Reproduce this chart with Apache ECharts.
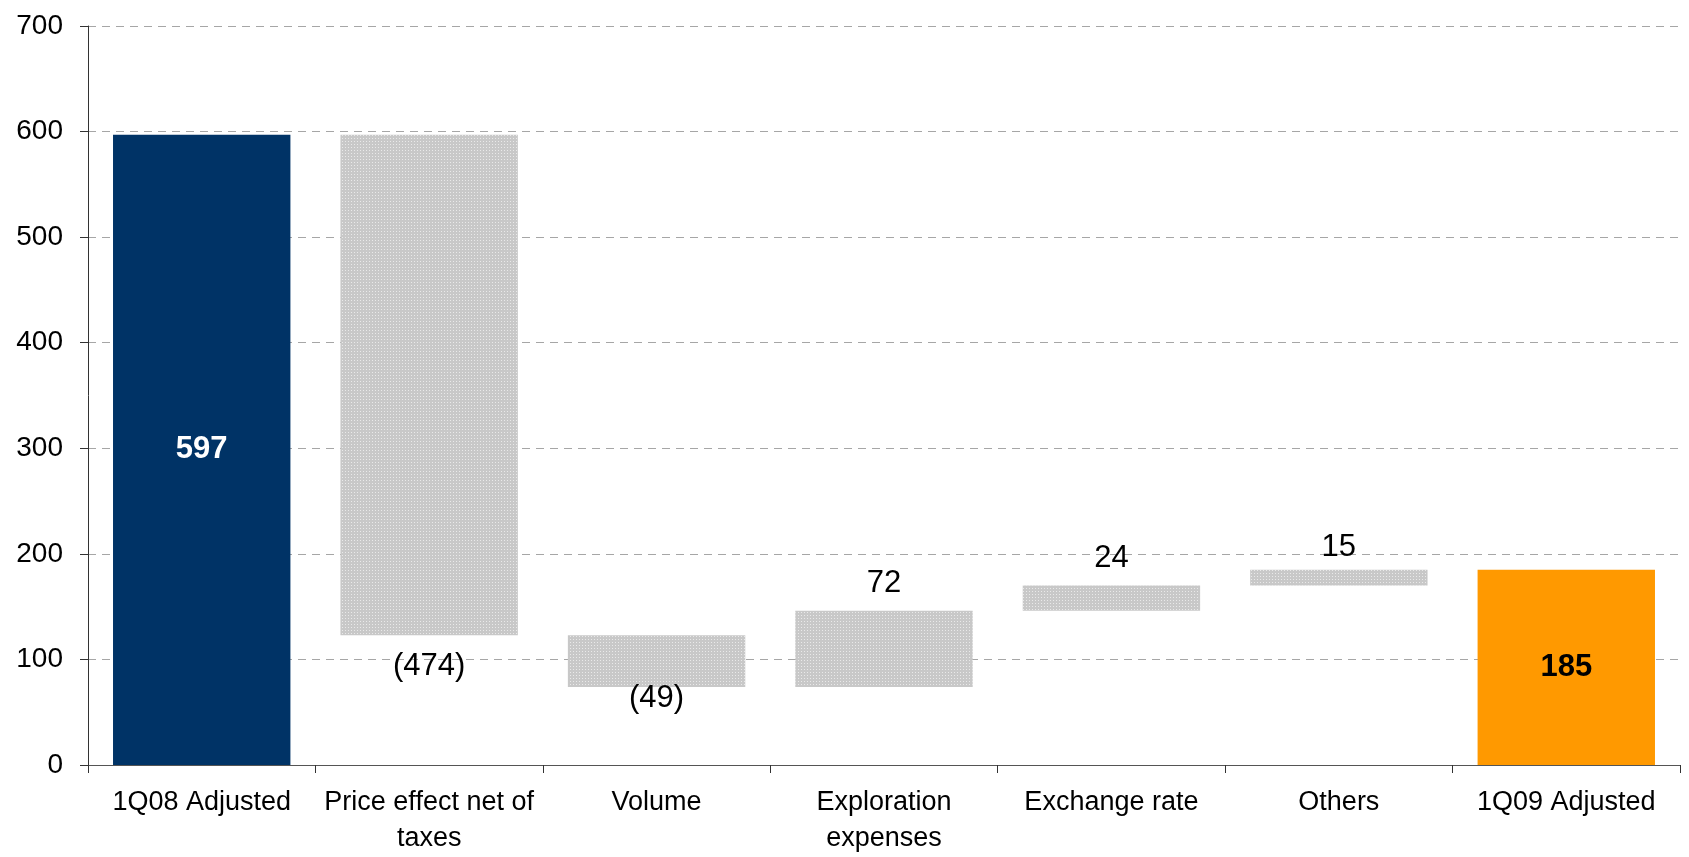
<!DOCTYPE html>
<html>
<head>
<meta charset="utf-8">
<script src="https://cdn.jsdelivr.net/npm/echarts@6/dist/echarts.min.js"></script>
<style>
  html, body { margin: 0; padding: 0; background: #fff; }
  #chart { width: 1689px; height: 857px; }
</style>
</head>
<body>
<div id="chart"></div>
<script>
const categories = ['1Q08 Adjusted', 'Price effect net of\ntaxes', 'Volume', 'Exploration\nexpenses', 'Exchange rate', 'Others', '1Q09 Adjusted'];
// first and last are totals, others are changes
const values = [597, -474, -49, 72, 24, 15, 185];
const isTotal = [true, false, false, false, false, false, true];
const yTicks = { min: 0, max: 700, interval: 100 };

const totalColors = ['#003366', null, null, null, null, null, '#FF9900'];
const totalLabelColors = ['#ffffff', null, null, null, null, null, '#000000'];
const labelDistance = [0, 16, -4, 12, 12, 7, 0];

// waterfall base (invisible) and visible heights
const base = [];
const heights = [];
let running = 0;
values.forEach((v, i) => {
  if (isTotal[i]) {
    base.push(0);
    heights.push(v);
    running = v;
  } else {
    const next = running + v;
    base.push(Math.min(running, next));
    heights.push(Math.abs(v));
    running = next;
  }
});

const fmt = v => v < 0 ? '(' + Math.abs(v) + ')' : String(v);

const visibleData = values.map((v, i) => {
  if (isTotal[i]) {
    return {
      value: heights[i],
      itemStyle: { color: totalColors[i] },
      label: {
        show: true, position: 'inside', formatter: fmt(v),
        color: totalLabelColors[i], fontWeight: 'bold', fontSize: 31
      }
    };
  }
  return {
    value: heights[i],
    itemStyle: {
      color: '#c8c8c8',
      decal: {
        symbol: 'rect', symbolSize: 1,
        color: 'rgba(255,255,255,0.6)',
        dashArrayX: [1, 2], dashArrayY: [1, 2]
      }
    },
    label: {
      show: true,
      position: v < 0 ? 'bottom' : 'top',
      distance: labelDistance[i],
      formatter: fmt(v),
      color: '#000', fontSize: 31
    }
  };
});

const chart = echarts.init(document.getElementById('chart'), null, { renderer: 'canvas' });
chart.setOption({
  animation: false,
  backgroundColor: '#ffffff',
  textStyle: { fontFamily: 'Liberation Sans, Arial, sans-serif' },
  grid: { left: 88, right: 9, top: 26, bottom: 91, containLabel: false },
  xAxis: {
    type: 'category',
    data: categories,
    axisLine: { lineStyle: { color: '#555', width: 1.2 } },
    axisTick: { show: true, length: 8, lineStyle: { color: '#333' } },
    axisLabel: { color: '#000', fontSize: 27, lineHeight: 36, margin: 20, interval: 0 },
    splitLine: { show: false }
  },
  yAxis: {
    type: 'value',
    min: yTicks.min, max: yTicks.max, interval: yTicks.interval,
    axisLine: { show: true, lineStyle: { color: '#333' } },
    axisTick: { show: true, length: 8, inside: false, lineStyle: { color: '#333' } },
    axisLabel: { color: '#000', fontSize: 28, margin: 25 },
    splitLine: { show: true, lineStyle: { color: '#a6a6a6', type: [8, 6], width: 1 } }
  },
  series: [
    {
      type: 'bar', stack: 'w', data: base,
      itemStyle: { color: 'transparent' },
      barCategoryGap: '22%', silent: true
    },
    {
      type: 'bar', stack: 'w', data: visibleData,
      barCategoryGap: '22%'
    }
  ]
});
</script>
</body>
</html>
